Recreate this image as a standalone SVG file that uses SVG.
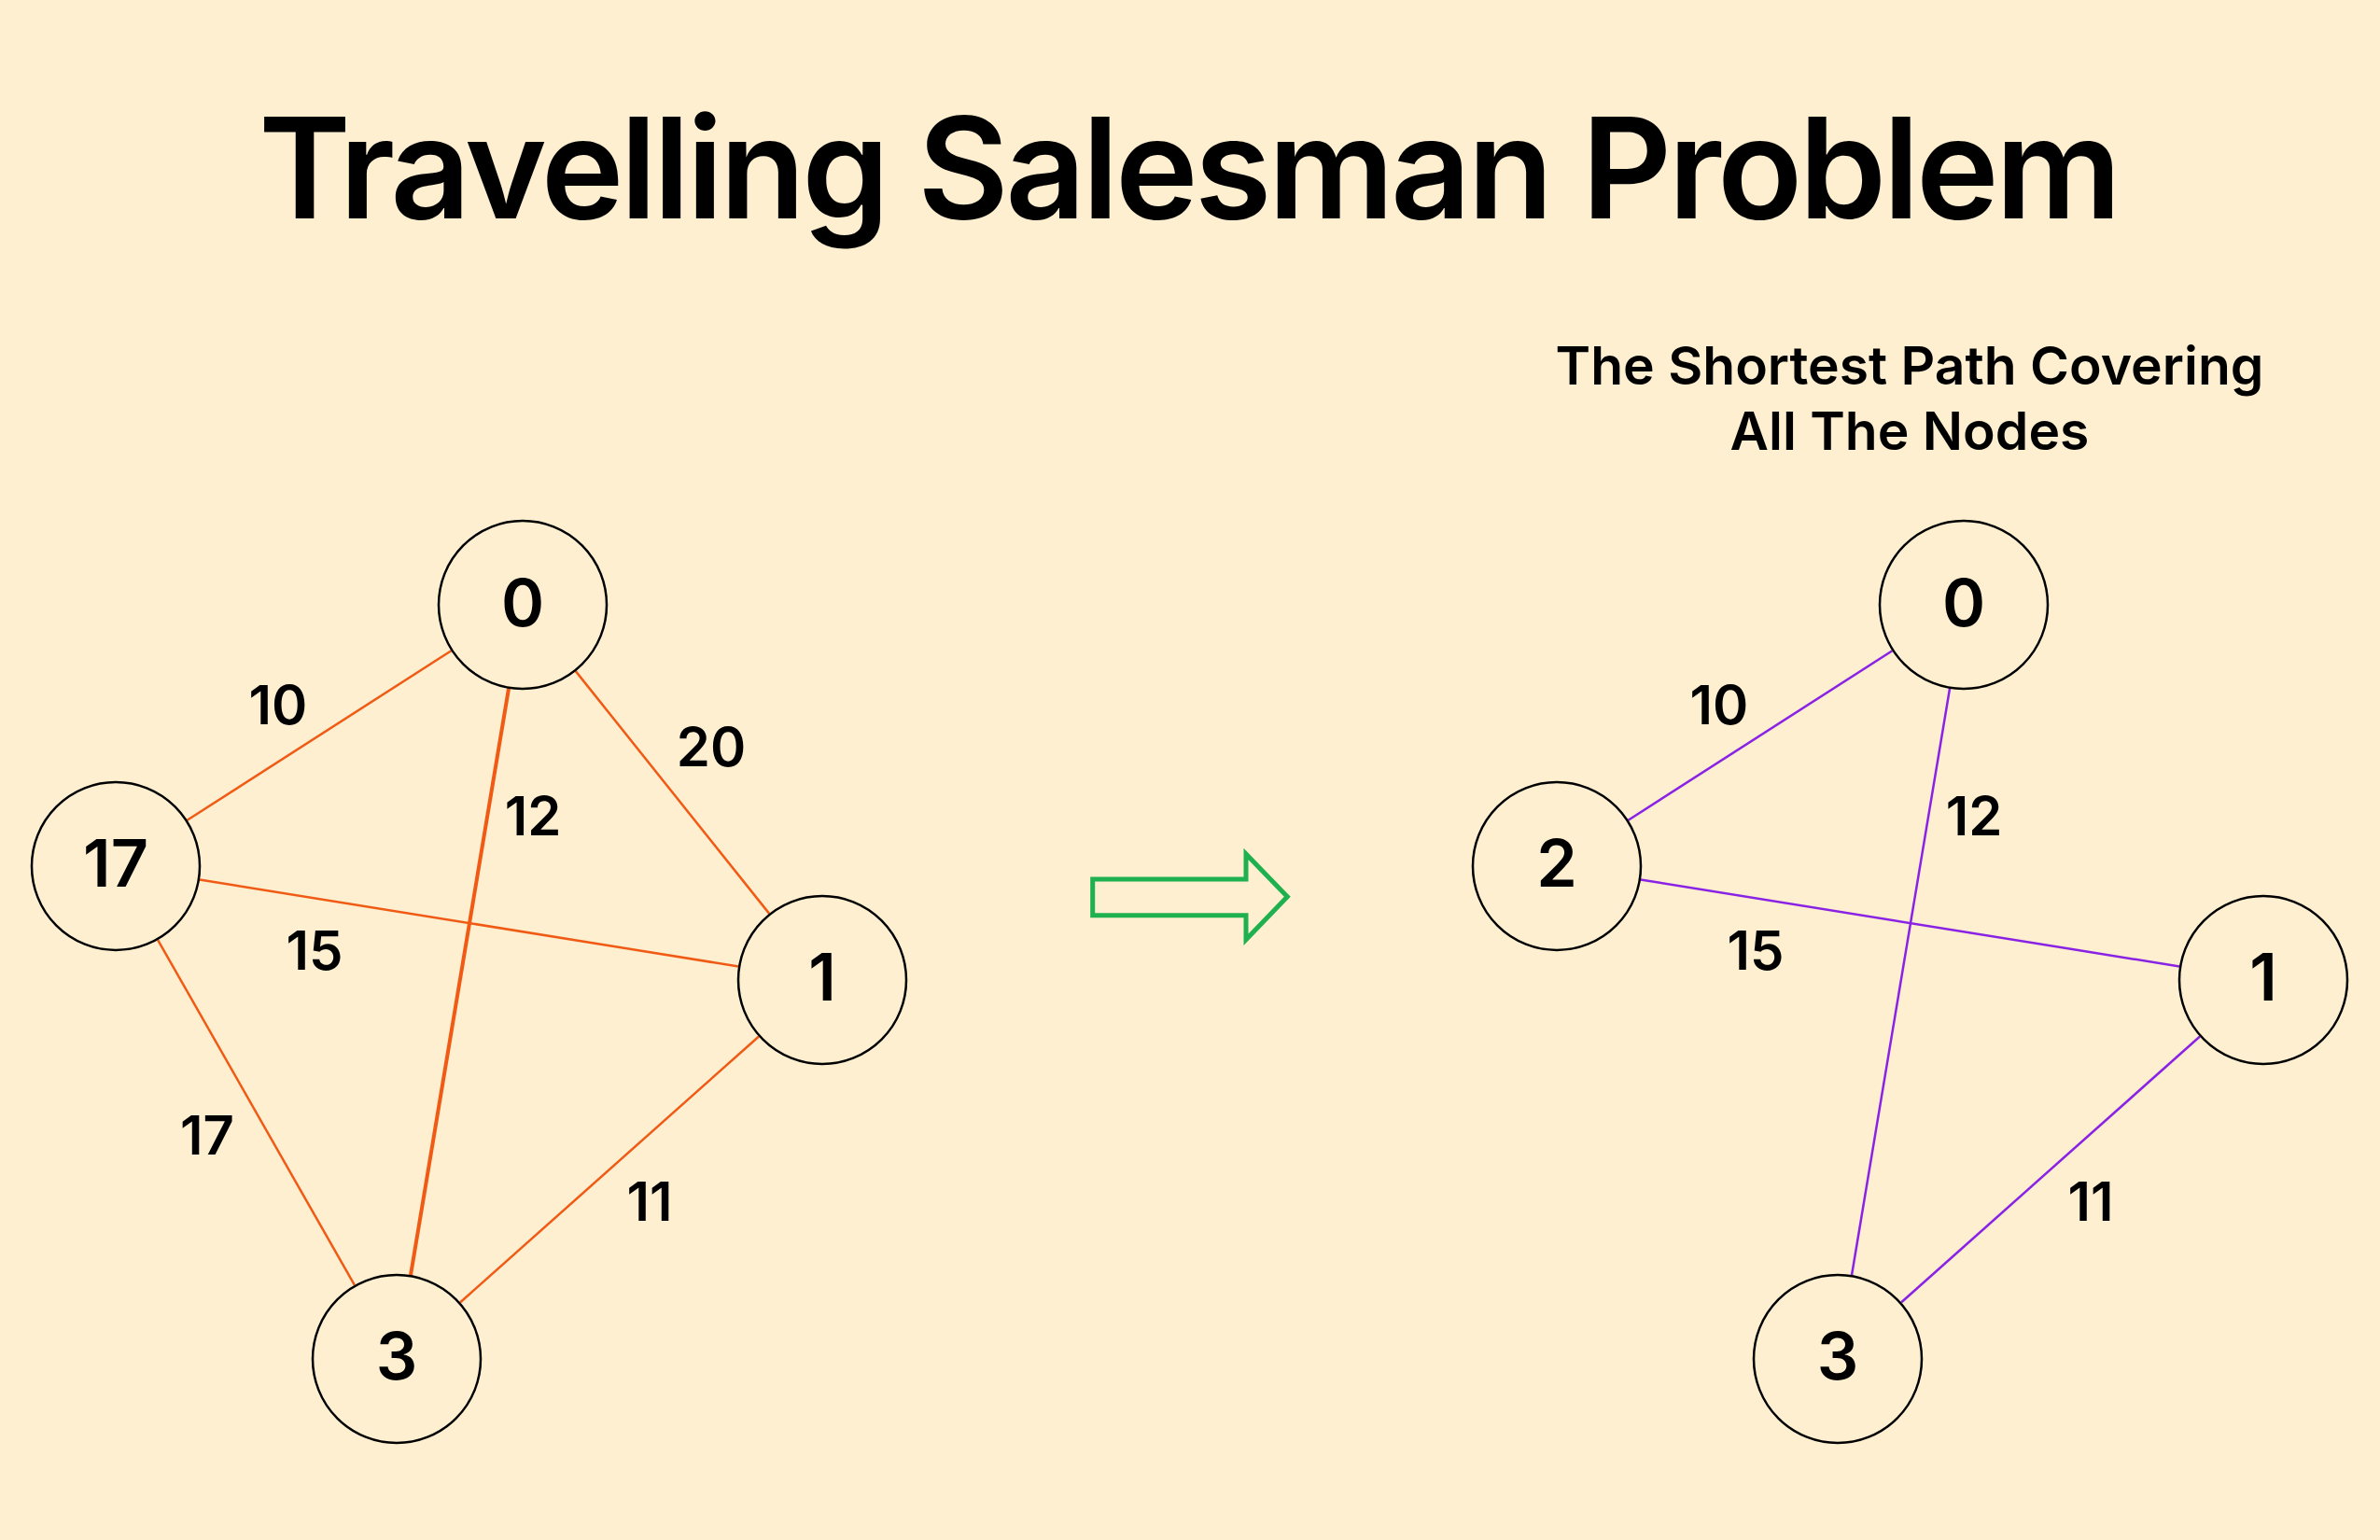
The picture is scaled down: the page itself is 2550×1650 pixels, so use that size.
<svg xmlns="http://www.w3.org/2000/svg" width="2550" height="1650" viewBox="0 0 2550 1650">
<style>
.title{font-family:Inter,"Liberation Sans",sans-serif;font-weight:600;font-size:150px;fill:#000}
.sub{font-family:Inter,"Liberation Sans",sans-serif;font-weight:600;font-size:57px;fill:#000}
.nl{font-family:Inter,"Liberation Sans",sans-serif;font-weight:600;font-size:70px;fill:#000;text-anchor:middle}
.el{font-family:Inter,"Liberation Sans",sans-serif;font-weight:600;font-size:58px;fill:#000;text-anchor:middle}
.node{fill:#fdefcf;stroke:#000;stroke-width:2.5}
.eo{stroke:#f05a14;stroke-width:2.5;fill:none}
.ep{stroke:#8a22e6;stroke-width:2.5;fill:none}
</style>
<rect width="2550" height="1650" fill="#fdefcf"/>
<text class="title" x="277" y="234" textLength="1996" lengthAdjust="spacing">Travelling Salesman Problem</text>
<text class="sub" x="2046" y="412" text-anchor="middle">The Shortest Path Covering</text>
<text class="sub" x="2046" y="482" text-anchor="middle">All The Nodes</text>
<g id="connectors">
<line class="eo" x1="483.4" y1="697.2" x2="200.6" y2="878.8"/>
<line class="eo" x1="616.8" y1="719.1" x2="824.2" y2="978.9"/>
<line class="eo" x1="545.0" y1="737.8" x2="440.0" y2="1366.2" style="stroke-width:4"/>
<line class="eo" x1="213.8" y1="942.5" x2="791.2" y2="1035.5"/>
<line class="eo" x1="169.1" y1="1007.1" x2="379.9" y2="1376.9"/>
<line class="eo" x1="813.0" y1="1110.5" x2="493.0" y2="1395.5"/>
<line class="ep" x1="2027.4" y1="697.2" x2="1744.6" y2="878.8"/>
<line class="ep" x1="2089.0" y1="737.8" x2="1984.0" y2="1366.2"/>
<line class="ep" x1="1757.8" y1="942.5" x2="2335.2" y2="1035.5"/>
<line class="ep" x1="2357.0" y1="1110.5" x2="2037.0" y2="1395.5"/>
<path id="arrow" d="M1170.7,942 H1335 V915 L1379.3,960.7 L1335,1006.7 V980.7 H1170.7 Z" fill="none" stroke="#1fb04f" stroke-width="5"/>
</g>
<g id="edge-labels-left">
<text class="el" x="298" y="776">10</text>
<text class="el" x="762" y="821">20</text>
<text class="el" x="571" y="895">12</text>
<text class="el" x="337" y="1039">15</text>
<text class="el" x="222" y="1237">17</text>
<text class="el" x="696" y="1308">11</text>
</g>
<g id="edge-labels-right">
<text class="el" x="1842" y="776">10</text>
<text class="el" x="2115" y="895">12</text>
<text class="el" x="1881" y="1039">15</text>
<text class="el" x="2240" y="1308">11</text>
</g>
<g id="L0"><circle class="node" cx="560" cy="648" r="90"/><text class="nl" x="560" y="671">0</text></g>
<g id="L17"><circle class="node" cx="124" cy="928" r="90"/><text class="nl" x="124" y="950">17</text></g>
<g id="L1"><circle class="node" cx="881" cy="1050" r="90"/><text class="nl" x="881" y="1072">1</text></g>
<g id="L3"><circle class="node" cx="425" cy="1456" r="90"/><text class="nl" x="425" y="1478">3</text></g>
<g id="R0"><circle class="node" cx="2104" cy="648" r="90"/><text class="nl" x="2104" y="671">0</text></g>
<g id="R2"><circle class="node" cx="1668" cy="928" r="90"/><text class="nl" x="1668" y="950">2</text></g>
<g id="R1"><circle class="node" cx="2425" cy="1050" r="90"/><text class="nl" x="2425" y="1072">1</text></g>
<g id="R3"><circle class="node" cx="1969" cy="1456" r="90"/><text class="nl" x="1969" y="1478">3</text></g>
</svg>
